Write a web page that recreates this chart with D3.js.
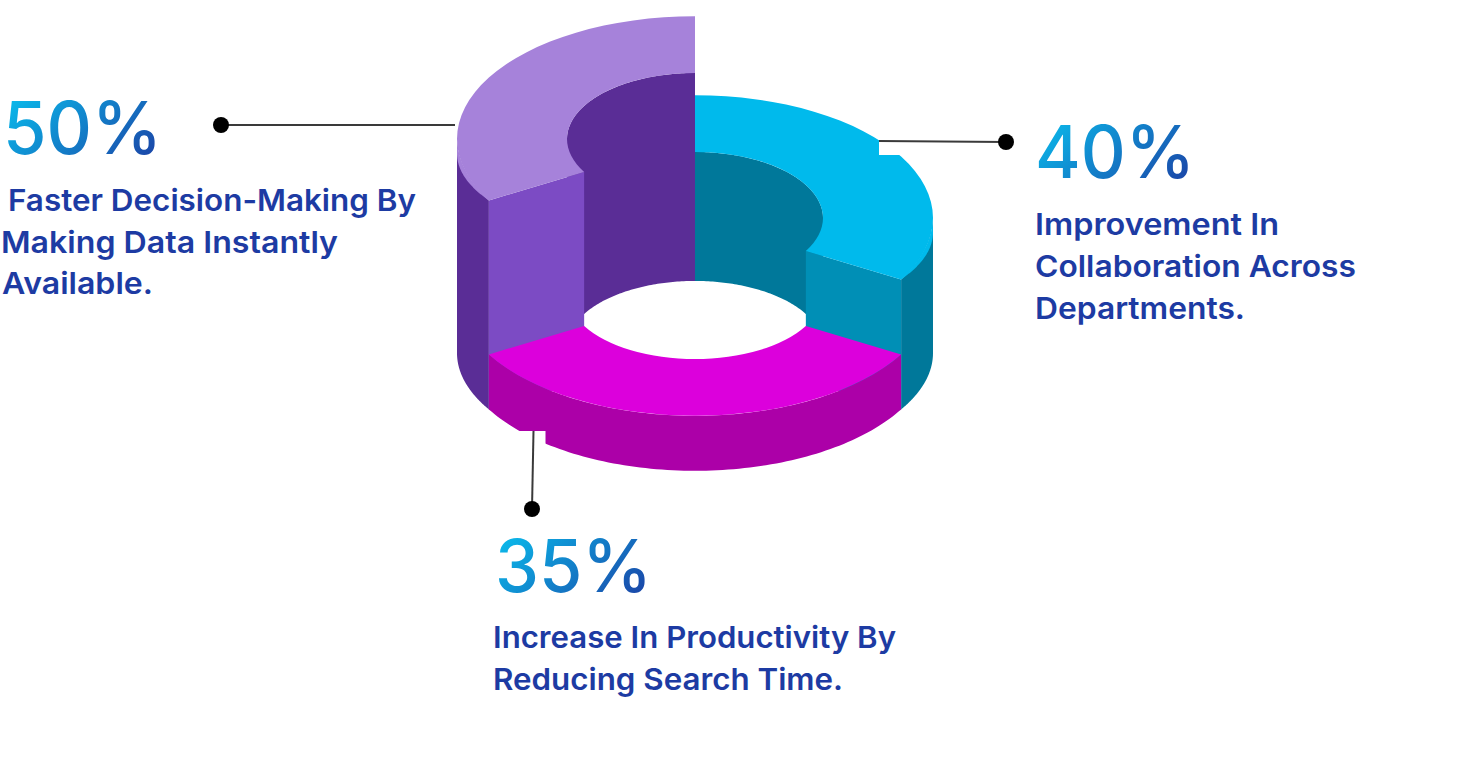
<!DOCTYPE html>
<html>
<head>
<meta charset="utf-8">
<script src="https://cdn.jsdelivr.net/npm/d3@7"></script>
<style>
  html, body { margin: 0; padding: 0; background: #fff; }
  svg { display: block; }
  text { font-family: Inter, "Open Sans", sans-serif; }
  .pct { font-size: 73px; font-weight: 500; }
  .desc { font-size: 30px; font-weight: 600; fill: #1d3ba3; }
</style>
</head>
<body>
<svg id="chart" width="1468" height="783"></svg>
<script>
// slices run clockwise from 12 o'clock
const percentValues = [40, 35, 50];
const percentLabels = ['40%', '35%', '50%'];
const descriptions = [
  ['Improvement In', 'Collaboration Across', 'Departments.'],
  ['Increase In Productivity By', 'Reducing Search Time.'],
  ['Faster Decision-Making By', 'Making Data Instantly', 'Available.']
];

const topColors = ['#00baec', '#dc00dc', '#a682da'];
const wallColors = ['#00789a', '#ac00a8', '#5a2d96'];
const faceColors = ['#008fb6', '#ac00a8', '#7c4bc4'];

const cx = 695, baseY = 348;
const outerR = 238, innerR = 128, tilt = 0.516;

// the source chart's ring height grows with the value, but not evenly
const heightScale = d3.scaleLinear().domain([35, 40, 50]).range([55, 130, 209]);

const svg = d3.select('#chart');
const defs = svg.append('defs');

const pie = d3.pie().value(() => 1).sort(null);
const slices = pie(percentValues);

const px = (r, a) => cx + r * Math.sin(a);
const py = (r, a, h) => baseY - h - r * tilt * Math.cos(a);
// the drawn ring has flatter shoulders at its sides than a true ellipse
const flatY = (r, a, h, drop) => baseY - h + drop - (r * tilt - 2 * drop) * Math.cos(a);

function sweep(a0, a1) {
  const n = 90;
  return d3.range(n + 1).map(i => a0 + (a1 - a0) * i / n);
}

function wallPath(r, h, a0, a1, drop = 0) {
  // hole floor sits a pixel above the outer base
  const floor = r === innerR ? 1 : 0;
  return d3.area()
    .x(a => px(r, a))
    .y0(a => py(r, a, h))
    .y1(a => flatY(r, a, floor, drop))(sweep(a0, a1));
}

function facePath(a, h) {
  return d3.line()([
    [px(outerR, a), py(outerR, a, h)],
    [px(innerR, a), py(innerR, a, h)],
    [px(innerR, a), py(innerR, a, 0)],
    [px(outerR, a), py(outerR, a, 0)]
  ]);
}

// fills the gap between the ellipse and the flatter shoulder on the top surface
function shoulderPath(h, a0, a1, drop) {
  return d3.area()
    .x(a => px(outerR, a))
    .y0(a => py(outerR, a, h) - 1)
    .y1(a => flatY(outerR, a, h, drop))(sweep(a0, a1));
}

const arc = d3.arc().innerRadius(innerR).outerRadius(outerR);
const chart = svg.append('g');
const HALF = Math.PI / 2;

// back to front: purple, blue, magenta
[2, 0, 1].forEach(i => {
  const s = slices[i];
  const h = heightScale(s.data);
  const g = chart.append('g');
  const o0 = Math.max(s.startAngle, HALF), o1 = Math.min(s.endAngle, 3 * HALF);

  // outside wall only where it faces the viewer
  g.append('path').attr('d', wallPath(outerR, h, o0, o1, i === 1 ? 0 : 5)).attr('fill', wallColors[i]);

  // inside wall on the far half of the hole
  if (s.startAngle < HALF) {
    g.append('path').attr('d', wallPath(innerR, h, s.startAngle, Math.min(s.endAngle, HALF))).attr('fill', wallColors[i]);
  }
  if (s.endAngle > 3 * HALF) {
    g.append('path').attr('d', wallPath(innerR, h, 3 * HALF, s.endAngle)).attr('fill', wallColors[i]);
  }

  // cut faces that can be seen
  if (i === 0) g.append('path').attr('d', facePath(s.endAngle, h)).attr('fill', faceColors[i]);
  if (i === 2) g.append('path').attr('d', facePath(s.startAngle, h)).attr('fill', faceColors[i]);

  g.append('path')
    .attr('d', arc(s))
    .attr('transform', `translate(${cx},${baseY - h}) scale(1,${tilt})`)
    .attr('fill', topColors[i]);
  if (i !== 1) g.append('path').attr('d', shoulderPath(h, o0, o1, 14.5)).attr('fill', topColors[i]);
});

// white notches where the leader lines join the ring
const notches = [
  { x: 879, y: 125, w: 40, h: 30 },
  { x: 510, y: 431, w: 35.5, h: 25 }
];
chart.selectAll('rect.notch').data(notches).enter()
  .append('rect')
  .attr('class', 'notch')
  .attr('x', d => d.x).attr('y', d => d.y)
  .attr('width', d => d.w).attr('height', d => d.h)
  .attr('fill', '#fff');

// leader lines, same order as percentValues
const leaders = [
  { x1: 879, y1: 141, x2: 1006, y2: 142 },
  { x1: 533.5, y1: 431, x2: 532, y2: 509 },
  { x1: 455, y1: 125, x2: 221, y2: 125 }
];
const leader = svg.append('g').selectAll('g').data(leaders).enter().append('g');
leader.append('line')
  .attr('x1', d => d.x1).attr('y1', d => d.y1)
  .attr('x2', d => d.x2).attr('y2', d => d.y2)
  .attr('stroke', '#3a3a3a').attr('stroke-width', 2);
leader.append('circle')
  .attr('cx', d => d.x2).attr('cy', d => d.y2).attr('r', 8)
  .attr('fill', '#000');

// text blocks
const blocks = [
  { x: 1035, pctY: 178, pctW: 160, descY: [234.5, 276.5, 318.5], descX: [1035, 1035, 1035], descW: [244, 321, 210] },
  { x: 495, pctY: 592, pctW: 157, descY: [647.5, 689.5], descX: [493, 493], descW: [403, 350] },
  { x: 3, pctY: 154, pctW: 159, descY: [210.5, 252.5, 294], descX: [8, 1, 2], descW: [408, 337, 151] }
];

const grad = defs.append('linearGradient').attr('id', 'pctGrad')
  .attr('x1', 0).attr('y1', 0.2).attr('x2', 1).attr('y2', 0.8);
grad.append('stop').attr('offset', 0).attr('stop-color', '#0abcec');
grad.append('stop').attr('offset', 1).attr('stop-color', '#1b43a6');

const labels = svg.append('g');
blocks.forEach((b, i) => {
  labels.append('text')
    .attr('class', 'pct')
    .attr('x', b.x).attr('y', b.pctY)
    .attr('textLength', b.pctW).attr('lengthAdjust', 'spacingAndGlyphs')
    .attr('fill', 'url(#pctGrad)')
    .text(percentLabels[i]);
  descriptions[i].forEach((line, j) => {
    labels.append('text')
      .attr('class', 'desc')
      .attr('x', b.descX[j]).attr('y', b.descY[j])
      .attr('textLength', b.descW[j]).attr('lengthAdjust', 'spacingAndGlyphs')
      .text(line);
  });
});
</script>
</body>
</html>
